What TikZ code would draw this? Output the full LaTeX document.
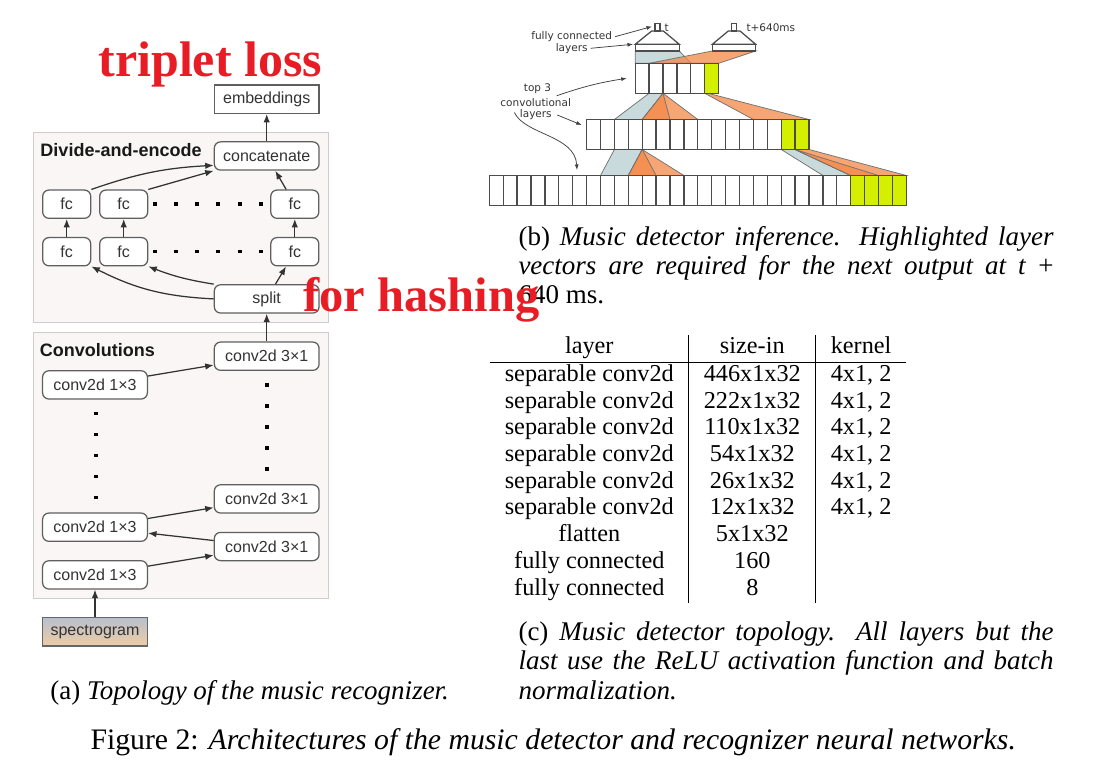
\documentclass[tikz,border=0pt]{standalone}
\usepackage{fontspec}
\setmainfont{Liberation Serif}
\newfontfamily\lsans{Liberation Sans}
\newfontfamily\dsans{DejaVu Sans}
\usepackage{tikz}
\usetikzlibrary{arrows.meta,shapes,backgrounds}

\definecolor{grpfill}{RGB}{249,246,245}
\definecolor{grpline}{RGB}{205,205,205}
\definecolor{boxline}{RGB}{95,95,95}
\definecolor{fanblue}{RGB}{200,218,220}
\definecolor{fanorange}{RGB}{245,135,70}
\definecolor{lime}{RGB}{212,240,0}
\definecolor{hashred}{RGB}{232,28,36}
\definecolor{spectop}{RGB}{185,192,205}
\definecolor{specbot}{RGB}{238,205,165}

\begin{document}
\begin{tikzpicture}[x=0.4pt,y=-0.4pt,>={Latex[length=3.4pt,width=2.6pt]},
  box/.style={draw=boxline,fill=white,rounded corners=2.5pt,line width=0.5pt,inner sep=0pt,
    minimum width=41.9pt,minimum height=11.3pt,text=black!80,font=\lsans\fontsize{6.4}{7}\selectfont},
  fcbox/.style={box,minimum width=19.2pt},
  grp/.style={draw=grpline,fill=grpfill,line width=0.5pt},
  ttl/.style={anchor=west,inner sep=0pt,text=black!90,font=\lsans\bfseries\fontsize{7.2}{8}\selectfont},
  arr/.style={draw=black!80,line width=0.5pt},
  cell/.style={draw=black!70,line width=0.5pt},
  fan/.style={draw=black!55,line width=0.3pt},
  lead/.style={draw=black!75,line width=0.3pt,>={Latex[length=2.2pt,width=1.6pt]}},
  lbl/.style={inner sep=0pt,text=black!80,font=\dsans\fontsize{4.2}{5}\selectfont},
  capt/.style={anchor=base west,inner sep=0pt,font=\fontsize{10.8}{12}\selectfont},
  hash/.style={anchor=base west,inner sep=0pt,text=hashred,font=\bfseries\fontsize{20}{24}\selectfont}]

  \useasboundingbox (0,0) rectangle (1105,765);

  % (a) divide-and-encode
  \draw[grp] (33.3,132.7) rectangle (328.3,322.7);
  \node[ttl] (dae) at (40,150) {Divide-and-encode};
  \node[box,sharp corners] (emb) at (266.7,99.2) {embeddings};
  \node[box] (cat) at (266.7,156) {concatenate};
  \node[fcbox] (fcu1) at (66.7,204.2) {fc};
  \node[fcbox] (fcu2) at (123.7,204.2) {fc};
  \node[fcbox] (fcu3) at (294.8,204.2) {fc};
  \node[fcbox] (fcl1) at (66.7,251.7) {fc};
  \node[fcbox] (fcl2) at (123.7,251.7) {fc};
  \node[fcbox] (fcl3) at (294.8,251.7) {fc};
  \node[box] (split) at (266.7,298.9) {split};
  \foreach \x in {155,176,197,218,240,261} {
    \fill (\x-1.8,202.4) rectangle ++(3.6,3.6);
    \fill (\x-1.8,249.9) rectangle ++(3.6,3.6);
  }
  \draw[arr,->] (split.west) to[bend left=12] (fcl1.south east);
  \draw[arr,->] (split.north west) to[bend left=6] (fcl2.south east);
  \draw[arr,->] (split) -- (fcl3);
  \draw[arr,->] (fcl1) -- (fcu1);
  \draw[arr,->] (fcl2) -- (fcu2);
  \draw[arr,->] (fcl3) -- (fcu3);
  \draw[arr,->] (fcu1.north east) to[bend left=8] (cat.190);
  \draw[arr,->] (fcu2.north east) -- (cat.south west);
  \draw[arr,->] (fcu3) -- (cat);
  \draw[arr,->] (cat) -- (emb);

  % (a) convolutions
  \draw[grp] (33.3,332.3) rectangle (328.3,598.3);
  \node[ttl] (cnv) at (39.3,350) {Convolutions};
  \node[box] (cr1) at (266.7,356.2) {conv2d 3×1};
  \node[box] (cl1) at (95,384.9) {conv2d 1×3};
  \node[box] (cr2) at (266.7,498.9) {conv2d 3×1};
  \node[box] (cl2) at (95,527.2) {conv2d 1×3};
  \node[box] (cr3) at (266.7,546.5) {conv2d 3×1};
  \node[box] (cl3) at (95,574.9) {conv2d 1×3};
  \node[box,sharp corners,draw=black!60,top color=spectop,bottom color=specbot] (spec) at (95,631.9) {spectrogram};
  \foreach \y in {413.3,434.3,455.3,476.3,497.3} \fill (95.7-1.8,\y-1.8) rectangle ++(3.6,3.6);
  \foreach \y in {385,406,427,448,469} \fill (266.7-1.8,\y-1.8) rectangle ++(3.6,3.6);
  \draw[arr,->] (spec) -- (cl3);
  \draw[arr,->] (cl3) -- (cr3);
  \draw[arr,->] (cr3) -- (cl2);
  \draw[arr,->] (cl2) -- (cr2);
  \draw[arr,->] (cl1) -- (cr1);
  \draw[arr,->] (cr1) -- (split);

  % (b) fans between layers
  \draw[fan,fill=fanblue] (635.2,51) -- (679.3,51) -- (691,63.3) -- (635.2,63.3) -- cycle;
  \draw[fan,fill=fanorange,fill opacity=0.75] (712.3,51) -- (755.7,51) -- (718.6,63.3) -- (649.1,63.3) -- cycle;
  \draw[fan,fill=fanblue] (649.1,93.3) -- (663,93.3) -- (642.2,119.5) -- (614.4,119.5) -- cycle;
  \draw[fan,fill=fanorange,fill opacity=0.75] (663,93.3) -- (697.8,119.5) -- (642.2,119.5) -- cycle;
  \draw[fan,fill=fanorange,fill opacity=0.75] (663,93.3) -- (670,119.5) -- (642.2,119.5) -- cycle;
  \draw[fan,fill=fanorange,fill opacity=0.75] (704.7,93.3) -- (708,93.3) -- (809,119.5) -- (753.4,119.5) -- cycle;
  \draw[fan,fill=fanblue] (614.4,149.5) -- (642.2,149.5) -- (628.3,175.5) -- (600.5,175.5) -- cycle;
  \draw[fan,fill=fanorange,fill opacity=0.75] (642.2,149.5) -- (683.9,175.5) -- (628.3,175.5) -- cycle;
  \draw[fan,fill=fanorange,fill opacity=0.75] (642.2,149.5) -- (656.1,175.5) -- (628.3,175.5) -- cycle;
  \draw[fan,fill=fanblue] (781.2,149.5) -- (795.1,149.5) -- (850.7,175.5) -- (822.9,175.5) -- cycle;
  \draw[fan,fill=fanorange,fill opacity=0.75] (795.1,149.5) -- (809,149.5) -- (906.3,175.5) -- (850.7,175.5) -- cycle;
  \draw[fan,fill=fanorange,fill opacity=0.75] (795.1,149.5) -- (878.5,175.5) -- (850.7,175.5) -- cycle;

  % (b) layer vectors
  \foreach \i in {0,...,5} \draw[cell,fill=white] (635.2+13.9*\i,63.3) rectangle ++(13.9,30);
  \draw[cell,fill=lime] (704.7,63.3) rectangle ++(13.9,30);
  \foreach \i in {0,...,15} \draw[cell,fill=white] (586.6+13.9*\i,119.5) rectangle ++(13.9,30);
  \foreach \i in {14,15} \draw[cell,fill=lime] (586.6+13.9*\i,119.5) rectangle ++(13.9,30);
  \foreach \i in {0,...,29} \draw[cell,fill=white] (489.3+13.9*\i,175.5) rectangle ++(13.9,30);
  \foreach \i in {26,...,29} \draw[cell,fill=lime] (489.3+13.9*\i,175.5) rectangle ++(13.9,30);

  % (b) fully connected heads
  \draw[cell,fill=white] (635.2,44.3) rectangle (679.3,51);
  \draw[cell,fill=white] (635.2,44.3) -- (651.7,31) -- (663.3,31) -- (679.3,44.3) -- cycle;
  \draw[cell,fill=white] (655,23.3) rectangle (660,31);
  \draw[cell,fill=white] (712.3,44.3) rectangle (755.7,51);
  \draw[cell,fill=white] (712.3,44.3) -- (728.3,31) -- (740,31) -- (755.7,44.3) -- cycle;
  \draw[cell,fill=white] (731.7,23.3) rectangle (736.7,31);

  % (b) labels
  \node[lbl,anchor=west] (tL) at (664,27.5) {t};
  \node[lbl,anchor=west] (tR) at (746,27.5) {t+640ms};
  \node[lbl] (fcn) at (571.7,36.7) {fully connected};
  \node[lbl] (fcy) at (571.7,48.3) {layers};
  \coordinate (outL) at (652,26.5);
  \coordinate (roofL) at (633,44.3);
  \draw[lead,->] ([xshift=1pt]fcn.east) -- (outL);
  \draw[lead,->] ([xshift=1pt]fcy.east) -- (roofL);
  \node[lbl] (top3) at (537.5,88.3) {top 3};
  \node[lbl] (cvl) at (535.7,102.3) {convolutional};
  \node[lbl] (lyr) at (535.8,115) {layers};
  \coordinate (rowT) at (626.7,78.3);
  \coordinate (rowM) at (581.7,125);
  \coordinate (rowB) at (577,170);
  \draw[lead,->] ([xshift=2pt,yshift=-3pt]top3.east) to[bend left=5] (rowT);
  \draw[lead,->] ([xshift=2pt]lyr.east) -- (rowM);
  \draw[lead,->] ([xshift=-2pt,yshift=1pt]lyr.west) .. controls (525,135) and (575,135) .. (rowB);

  % (c) table
  \node[anchor=north west,inner sep=0pt,font=\fontsize{9.7}{12}\selectfont] (tab) at (489.3,334.6) {%
    \renewcommand{\arraystretch}{0.89}%
    \begin{tabular}{c|c|c}
      layer & size-in & kernel\\ \hline
      separable conv2d & 446x1x32 & 4x1, 2\\
      separable conv2d & 222x1x32 & 4x1, 2\\
      separable conv2d & 110x1x32 & 4x1, 2\\
      separable conv2d & 54x1x32 & 4x1, 2\\
      separable conv2d & 26x1x32 & 4x1, 2\\
      separable conv2d & 12x1x32 & 4x1, 2\\
      flatten & 5x1x32 & \\
      fully connected & 160 & \\
      fully connected & 8 &
    \end{tabular}};

  % captions
  \node[capt] (capb1) at (518,245) {\makebox[214pt][s]{(b) \textit{Music detector inference. Highlighted layer}}};
  \node[capt] (capb2) at (518,274.5) {\makebox[214pt][s]{\textit{vectors are required for the next output at t} +}};
  \node[capt] (capb3) at (518,304) {640 ms.};
  \node[capt] (capc1) at (518,640) {\makebox[214pt][s]{(c) \textit{Music detector topology. All layers but the}}};
  \node[capt] (capc2) at (518,669.5) {\makebox[214pt][s]{\textit{last use the ReLU activation function and batch}}};
  \node[capt] (capc3) at (518,699) {\textit{normalization.}};
  \node[capt] (capa) at (50,699) {(a) \textit{Topology of the music recognizer.}};
  \node[capt,font=\fontsize{11.9}{14}\selectfont] (fig) at (90,749) {Figure 2: \textit{Architectures of the music detector and recognizer neural networks.}};

  % overlay
  \node[hash] (trip) at (98,77) {triplet loss};
  \node[hash,font=\bfseries\fontsize{19.4}{24}\selectfont] (forh) at (303,312) {for hashing};

\end{tikzpicture}
\end{document}
